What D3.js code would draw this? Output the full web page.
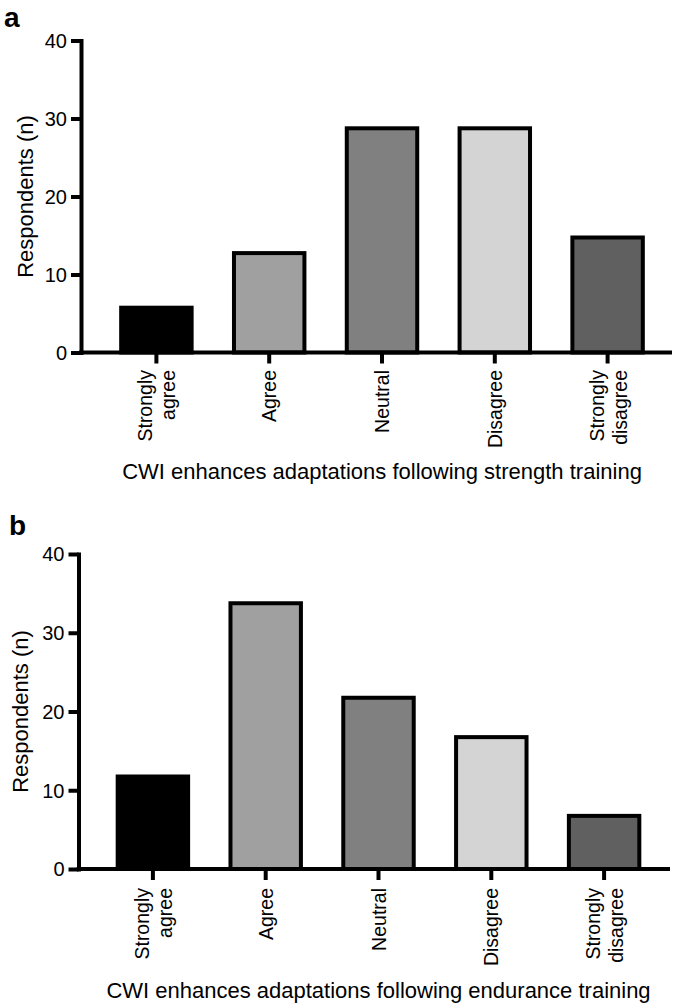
<!DOCTYPE html>
<html>
<head>
<meta charset="utf-8">
<script src="https://cdn.jsdelivr.net/npm/d3@7/dist/d3.min.js"></script>
<style>
  html, body { margin: 0; padding: 0; background: #fff; }
  svg { display: block; font-family: "Liberation Sans", Arial, sans-serif; }
</style>
</head>
<body>
<svg id="chart" width="685" height="1003"></svg>
<script>
// ---- data ----
const categories = ["Strongly agree", "Agree", "Neutral", "Disagree", "Strongly disagree"];
const categoryLines = [["Strongly", "agree"], ["Agree"], ["Neutral"], ["Disagree"], ["Strongly", "disagree"]];
const barColors = ["#000000", "#a0a0a0", "#808080", "#d4d4d4", "#606060"];
const strengthValues = [6, 13, 29, 29, 15];
const enduranceValues = [12, 34, 22, 17, 7];
const yTicks = [0, 10, 20, 30, 40];
const yLabel = "Respondents (n)";
const titleA = "CWI enhances adaptations following strength training";
const titleB = "CWI enhances adaptations following endurance training";

const svg = d3.select("#chart");
const SW = 4;

function panel(opt) {
  const g = svg.append("g");
  const x = d3.scaleBand().domain(categories).range([opt.x0, opt.x1]).paddingInner(0.34).paddingOuter(0.17);
  const y = d3.scaleLinear().domain([0, 40]).range([opt.yBottom, opt.yTop]);

  // bars
  g.selectAll("rect.bar").data(opt.values).enter().append("rect")
    .attr("class", "bar")
    .attr("x", (d, i) => x(categories[i]) + SW / 2)
    .attr("width", x.bandwidth() - SW)
    .attr("y", d => y(d) + SW / 2)
    .attr("height", d => y(0) - y(d) - SW / 2)
    .attr("fill", (d, i) => barColors[i])
    .attr("stroke", "#000")
    .attr("stroke-width", SW);

  // y axis
  const ya = g.append("g").attr("transform", `translate(${opt.axisX},0)`)
    .call(d3.axisLeft(y).tickValues(yTicks).tickSize(10).tickSizeOuter(0).tickPadding(4));
  ya.select(".domain").attr("stroke-width", SW).attr("stroke", "#000").attr("stroke-linecap", "square");
  ya.selectAll(".tick line").attr("stroke-width", SW).attr("stroke", "#000");
  ya.selectAll(".tick text").attr("font-size", "20px").attr("fill", "#000")
    .attr("font-family", "Liberation Sans, Arial, sans-serif").attr("dy", "0.34em");

  // x axis
  const xa = g.append("g").attr("transform", `translate(0,${y(0)})`)
    .call(d3.axisBottom(x).tickSize(11).tickSizeOuter(0));
  xa.select(".domain").remove();
  xa.selectAll(".tick line").attr("stroke-width", SW).attr("stroke", "#000");
  xa.selectAll(".tick text").remove();
  xa.selectAll(".tick").each(function (d, i) {
    const lines = categoryLines[i];
    const t = d3.select(this).append("text")
      .attr("transform", "rotate(-90)")
      .attr("text-anchor", "end")
      .attr("font-size", "19.5px")
      .attr("fill", "#000");
    if (lines.length === 1) {
      t.append("tspan").attr("x", -opt.labelGap).attr("y", 7).text(lines[0]);
    } else {
      t.append("tspan").attr("x", -opt.labelGap).attr("y", -4).text(lines[0]);
      t.append("tspan").attr("x", -opt.labelGap).attr("y", 19).text(lines[1]);
    }
  });
  // x axis baseline
  g.append("line")
    .attr("x1", opt.axisX).attr("x2", opt.axisEnd)
    .attr("y1", y(0)).attr("y2", y(0))
    .attr("stroke", "#000").attr("stroke-width", SW).attr("stroke-linecap", "square");

  // y label
  g.append("text")
    .attr("transform", `translate(${opt.yLabelX},${(y(0) + y(40)) / 2}) rotate(-90)`)
    .attr("text-anchor", "middle")
    .attr("font-size", "22px")
    .attr("fill", "#000")
    .text(yLabel);

  // x title
  g.append("text")
    .attr("x", (opt.x0 + opt.x1) / 2)
    .attr("y", opt.titleY)
    .attr("text-anchor", "middle")
    .attr("font-size", "22px")
    .attr("fill", "#000")
    .text(opt.title);

  // panel letter
  g.append("text")
    .attr("x", opt.letterX).attr("y", opt.letterY)
    .attr("font-size", "28px").attr("font-weight", "bold")
    .attr("fill", "#000")
    .text(opt.letter);
}

panel({
  values: strengthValues, title: titleA, letter: "a",
  x0: 100, x1: 664, yBottom: 352.5, yTop: 40.5, axisX: 81, axisEnd: 670,
  yLabelX: 32.5, titleY: 479, labelGap: 17.5, letterX: 4, letterY: 27
});
panel({
  values: enduranceValues, title: titleB, letter: "b",
  x0: 96.5, x1: 660.5, yBottom: 869, yTop: 554, axisX: 78.5, axisEnd: 668,
  yLabelX: 27.5, titleY: 998, labelGap: 19, letterX: 9, letterY: 535
});
</script>
</body>
</html>
